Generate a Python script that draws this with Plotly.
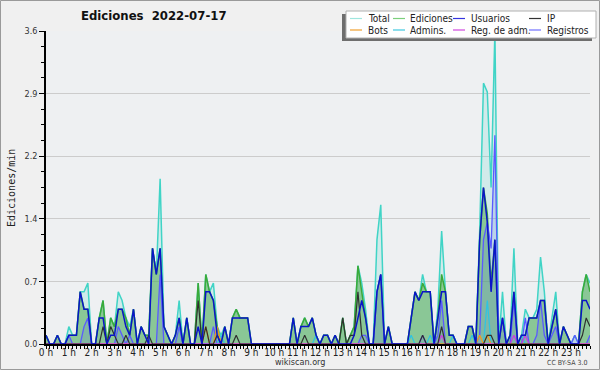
import plotly.graph_objects as go

# ---- time bins (10 minutes) ----
minutes = list(range(0, 1440, 10))
hours = [m / 60 for m in minutes]
hour_ticks = list(range(24))
hour_labels = [f"{h} h" for h in hour_ticks]

# ---- series (edits per minute, one row per hour) ----
total = [
    0.1, 0, 0, 0.1, 0, 0,
    0.2, 0.1, 0.1, 0.6, 0.6, 0.7,
    0, 0, 0.3, 0.5, 0, 0.3,
    0.2, 0.6, 0.5, 0.3, 0.2, 0.4,
    0, 0.2, 0.1, 0.1, 1.1, 0.8,
    1.9, 0.2, 0.1, 0, 0.1, 0.5,
    0, 0.3, 0, 0, 0.7, 0,
    0.8, 0.6, 0.7, 0.2, 0.1, 0.2,
    0, 0.3, 0.4, 0.3, 0.3, 0.3,
    0, 0, 0, 0, 0, 0,
    0, 0, 0, 0, 0, 0.3,
    0, 0.2, 0.3, 0.2, 0.3, 0.1,
    0, 0.1, 0.1, 0, 0.1, 0,
    0.3, 0, 0.1, 0.2, 0.9, 0.7,
    0.4, 0, 0, 1.2, 1.6, 0,
    0.2, 0, 0, 0, 0, 0,
    0.3, 0.6, 0.5, 0.8, 0.6, 0.6,
    0, 0.4, 1.3, 0.6, 0.1, 0.1,
    0, 0, 0, 0.2, 0.2, 0,
    1.3, 3.0, 2.9, 1.8, 3.6, 0,
    0.6, 0, 0.1, 1.1, 0, 0.1,
    0.4, 0.3, 0.3, 0.4, 1.0, 0.6,
    0, 0.3, 0.6, 0, 0.2, 0.1,
    0, 0.1, 0, 0.6, 0.8, 0.7,
]
ediciones = [
    0.1, 0, 0, 0.1, 0, 0,
    0.1, 0.1, 0.1, 0.6, 0.4, 0.4,
    0, 0, 0.3, 0.5, 0, 0.3,
    0.2, 0.4, 0.4, 0.3, 0.1, 0.4,
    0, 0.2, 0.1, 0.1, 1.1, 0.8,
    1.1, 0.2, 0.1, 0, 0.1, 0.3,
    0, 0.3, 0, 0, 0.7, 0,
    0.8, 0.6, 0.5, 0.2, 0, 0.2,
    0, 0.3, 0.4, 0.3, 0.3, 0.3,
    0, 0, 0, 0, 0, 0,
    0, 0, 0, 0, 0, 0.3,
    0, 0.2, 0.3, 0.2, 0.3, 0.1,
    0, 0.1, 0.1, 0, 0.1, 0,
    0.3, 0, 0.1, 0.2, 0.9, 0.6,
    0.3, 0, 0, 0.6, 0.8, 0,
    0.2, 0, 0, 0, 0, 0,
    0.3, 0.6, 0.5, 0.7, 0.6, 0.6,
    0, 0.3, 0.8, 0.6, 0.1, 0.1,
    0, 0, 0, 0.2, 0.2, 0,
    1.2, 1.8, 1.5, 0.7, 1.2, 0,
    0.3, 0, 0.1, 0.6, 0, 0.1,
    0.1, 0.3, 0.3, 0.3, 0.5, 0.5,
    0, 0.2, 0.4, 0, 0.2, 0.1,
    0, 0, 0, 0.6, 0.8, 0.6,
]
usuarios = [
    0.1, 0, 0, 0.1, 0, 0,
    0.1, 0.1, 0.1, 0.6, 0.4, 0.4,
    0, 0, 0.3, 0.3, 0, 0.1,
    0.1, 0.4, 0.4, 0.2, 0.1, 0.4,
    0, 0.2, 0.1, 0, 1.1, 0.8,
    1.1, 0.2, 0.1, 0, 0.1, 0.3,
    0, 0.3, 0, 0, 0.2, 0,
    0.6, 0.6, 0.5, 0.1, 0, 0.2,
    0, 0.3, 0.3, 0.3, 0.3, 0.3,
    0, 0, 0, 0, 0, 0,
    0, 0, 0, 0, 0, 0.3,
    0, 0.2, 0.2, 0.2, 0.3, 0.1,
    0, 0.1, 0.1, 0, 0.1, 0,
    0, 0, 0, 0.1, 0.3, 0.5,
    0.3, 0, 0, 0.6, 0.8, 0,
    0.2, 0, 0, 0, 0, 0,
    0.3, 0.6, 0.5, 0.6, 0.6, 0.6,
    0, 0.3, 0.6, 0.6, 0.1, 0.1,
    0, 0, 0, 0.2, 0.2, 0,
    1.2, 1.8, 1.4, 0.6, 1.2, 0,
    0.3, 0, 0.1, 0.6, 0, 0.1,
    0.1, 0.3, 0.3, 0.3, 0.5, 0.5,
    0, 0.2, 0.4, 0, 0.2, 0.1,
    0, 0, 0, 0.5, 0.5, 0.4,
]
ip = [
    0, 0, 0, 0, 0, 0,
    0, 0, 0, 0, 0, 0,
    0, 0, 0, 0.2, 0, 0.2,
    0.1, 0, 0, 0.1, 0, 0,
    0, 0, 0, 0.1, 0, 0,
    0, 0, 0, 0, 0, 0,
    0, 0, 0, 0, 0.5, 0,
    0.2, 0, 0, 0.1, 0, 0,
    0, 0, 0.1, 0, 0, 0,
    0, 0, 0, 0, 0, 0,
    0, 0, 0, 0, 0, 0,
    0, 0, 0.1, 0, 0, 0,
    0, 0, 0, 0, 0, 0,
    0.3, 0, 0.1, 0.1, 0.6, 0.1,
    0, 0, 0, 0, 0, 0,
    0, 0, 0, 0, 0, 0,
    0, 0, 0, 0.1, 0, 0,
    0, 0, 0.2, 0, 0, 0,
    0, 0, 0, 0, 0, 0,
    0, 0, 0.1, 0.1, 0, 0,
    0, 0, 0, 0, 0, 0,
    0, 0, 0, 0, 0, 0,
    0, 0, 0, 0, 0, 0,
    0, 0, 0, 0.1, 0.3, 0.2,
]
registros = [
    0, 0, 0, 0, 0, 0,
    0.1, 0, 0, 0, 0.2, 0.3,
    0, 0, 0, 0, 0, 0,
    0, 0.2, 0.1, 0, 0.1, 0,
    0, 0, 0, 0, 0, 0,
    0.8, 0, 0, 0, 0, 0.2,
    0, 0, 0, 0, 0, 0,
    0, 0, 0.2, 0, 0, 0,
    0, 0, 0, 0, 0, 0,
    0, 0, 0, 0, 0, 0,
    0, 0, 0, 0, 0, 0,
    0, 0, 0, 0, 0, 0,
    0, 0, 0, 0, 0, 0,
    0, 0, 0, 0, 0, 0.1,
    0.1, 0, 0, 0.6, 0.8, 0,
    0, 0, 0, 0, 0, 0,
    0, 0, 0, 0.1, 0, 0,
    0, 0.1, 0.5, 0, 0, 0,
    0, 0, 0, 0, 0, 0,
    0.1, 1.2, 1.4, 1.1, 2.4, 0,
    0.3, 0, 0, 0.5, 0, 0,
    0.3, 0, 0, 0.1, 0.5, 0.1,
    0, 0.1, 0.2, 0, 0, 0,
    0, 0.1, 0, 0, 0, 0.1,
]
bots = [
    0, 0, 0, 0, 0, 0,
    0, 0, 0, 0, 0, 0,
    0, 0, 0, 0, 0, 0,
    0, 0, 0, 0, 0, 0,
    0, 0, 0, 0, 0, 0,
    0, 0, 0, 0, 0, 0,
    0, 0, 0, 0, 0, 0,
    0.2, 0, 0, 0.2, 0, 0,
    0, 0, 0, 0, 0, 0,
    0, 0, 0, 0, 0, 0,
    0, 0, 0, 0, 0, 0,
    0, 0, 0, 0, 0, 0,
    0, 0, 0, 0, 0, 0,
    0, 0, 0, 0, 0, 0,
    0, 0, 0, 0, 0, 0,
    0, 0, 0, 0, 0, 0,
    0, 0, 0, 0, 0, 0,
    0, 0, 0, 0, 0, 0,
    0, 0, 0, 0, 0, 0,
    0.1, 0, 0.1, 0, 0, 0,
    0, 0, 0, 0, 0, 0,
    0, 0, 0, 0, 0, 0,
    0, 0, 0, 0, 0, 0,
    0, 0, 0, 0, 0, 0,
]
admins = [
    0, 0, 0, 0, 0, 0,
    0, 0, 0, 0, 0, 0,
    0, 0, 0, 0, 0, 0,
    0, 0, 0, 0, 0, 0,
    0, 0, 0, 0, 0, 0,
    0, 0, 0, 0, 0, 0,
    0, 0, 0, 0, 0, 0,
    0, 0, 0, 0, 0.1, 0,
    0, 0, 0, 0, 0, 0,
    0, 0, 0, 0, 0, 0,
    0, 0, 0, 0, 0, 0,
    0, 0, 0, 0, 0, 0.1,
    0, 0, 0, 0, 0, 0,
    0, 0, 0, 0, 0, 0,
    0, 0, 0, 0, 0, 0,
    0, 0, 0, 0, 0, 0,
    0.1, 0, 0, 0, 0, 0.1,
    0, 0, 0, 0, 0, 0.1,
    0, 0, 0, 0, 0.1, 0,
    0, 0, 0.5, 0, 0, 0,
    0, 0, 0, 0, 0, 0.1,
    0, 0, 0, 0, 0, 0,
    0, 0, 0, 0, 0, 0,
    0, 0, 0, 0, 0, 0,
]
reg_adm = [
    0, 0, 0, 0, 0, 0,
    0, 0, 0, 0, 0, 0,
    0, 0, 0, 0, 0, 0,
    0, 0, 0, 0, 0, 0,
    0, 0, 0, 0, 0, 0,
    0, 0, 0, 0, 0, 0,
    0, 0, 0, 0, 0, 0,
    0, 0, 0, 0, 0, 0,
    0, 0, 0, 0, 0, 0,
    0, 0, 0, 0, 0, 0,
    0, 0, 0, 0, 0, 0,
    0, 0, 0, 0, 0, 0,
    0, 0, 0, 0, 0, 0,
    0, 0, 0, 0, 0, 0,
    0, 0, 0, 0, 0, 0,
    0, 0, 0, 0, 0, 0,
    0, 0, 0, 0, 0, 0,
    0, 0, 0.1, 0, 0, 0,
    0, 0, 0, 0, 0, 0,
    0, 0, 0, 0, 0, 0,
    0, 0, 0, 0.1, 0, 0,
    0.1, 0, 0, 0, 0, 0,
    0, 0, 0, 0, 0, 0,
    0, 0, 0, 0, 0, 0,
]

y_major = [0, 0.72, 1.44, 2.16, 2.88, 3.6]
y_labels = ["0.0", "0.7", "1.4", "2.2", "2.9", "3.6"]

legend_items = [
    ("Total", "#9fe6df"), ("Ediciones", "#7ccf7c"), ("Usuarios", "#3434e0"), ("IP", "#333333"),
    ("Bots", "#f0a030"), ("Admins.", "#40c8e0"), ("Reg. de adm.", "#d048e0"), ("Registros", "#7070ff"),
]

# ---- geometry helpers (pixel -> paper) ----
W, H = 600, 370
L, R, T, B = 46, 10, 31, 26
PW, PH = W - L - R, H - T - B


def px(x):
    return (x - L) / PW


def py(y):
    return (H - B - y) / PH


fig = go.Figure()


def add(y, color, width, fill=None, fillcolor=None):
    fig.add_trace(go.Scatter(
        x=hours, y=y, mode="lines",
        line=dict(color=color, width=width),
        fill=fill, fillcolor=fillcolor,
        showlegend=False, hoverinfo="skip",
    ))


add(total, "#40d4c6", 1.5, "tozeroy", "rgba(64,208,192,0.16)")
add(ediciones, "#3aaa3a", 1.5, "tozeroy", "rgba(80,170,80,0.55)")
add(registros, "#5a5aff", 1.3, "tozeroy", "rgba(90,110,230,0.18)")
add(admins, "#30c4e0", 1.3)
add(bots, "#f09a20", 1.3)
add(reg_adm, "#c840e0", 1.3)
add(ip, "#303030", 1.2)
add(usuarios, "#0a14c8", 1.5)

shapes = []
annotations = []

FONT = "DejaVu Sans Condensed, Liberation Sans Narrow, Liberation Sans"

# legend box with shadow
shapes.append(dict(type="rect", xref="paper", yref="paper",
                   x0=px(342), x1=px(592), y0=py(41), y1=py(14),
                   fillcolor="#6e6e6e", line=dict(width=0), layer="above"))
shapes.append(dict(type="rect", xref="paper", yref="paper",
                   x0=px(346), x1=px(596), y0=py(38), y1=py(11),
                   fillcolor="white", line=dict(color="#b0b0b0", width=1), layer="above"))
col_line = [350, 393, 453, 529]
col_text = [366, 408, 469, 545]
rows = [18.5, 30]
for k, (name, color) in enumerate(legend_items):
    r, c = divmod(k, 4)
    yy = rows[r]
    shapes.append(dict(type="line", xref="paper", yref="paper",
                       x0=px(col_line[c]), x1=px(col_line[c] + 12), y0=py(yy), y1=py(yy),
                       line=dict(color=color, width=1.2), layer="above"))
    annotations.append(dict(text=name, xref="paper", yref="paper", x=px(col_text[c]), y=py(yy),
                            xanchor="left", yanchor="middle", showarrow=False,
                            font=dict(family=FONT, size=10, color="#222222")))

# outer border
shapes.append(dict(type="rect", xref="paper", yref="paper",
                   x0=px(0.5), x1=px(599.5), y0=py(369.5), y1=py(0.5),
                   line=dict(color="#9a9a9a", width=1), fillcolor="rgba(0,0,0,0)", layer="above"))

annotations.append(dict(text="<b>Ediciones  2022-07-17</b>", xref="paper", yref="paper",
                        x=px(154), y=py(16), xanchor="center", yanchor="middle", showarrow=False,
                        font=dict(family=FONT, size=13, color="#111111")))
annotations.append(dict(text="Ediciones/min", xref="paper", yref="paper",
                        x=px(11), y=py(188), xanchor="center", yanchor="middle", showarrow=False,
                        textangle=-90,
                        font=dict(family="DejaVu Sans Mono", size=10, color="#222222")))
annotations.append(dict(text="wikiscan.org", xref="paper", yref="paper",
                        x=px(300), y=py(362), xanchor="center", yanchor="middle", showarrow=False,
                        font=dict(family=FONT, size=9, color="#333333")))
annotations.append(dict(text="CC BY-SA 3.0", xref="paper", yref="paper",
                        x=px(589), y=py(362.5), xanchor="right", yanchor="middle", showarrow=False,
                        font=dict(family=FONT, size=7, color="#444444")))

fig.update_layout(
    width=W, height=H, autosize=False,
    margin=dict(l=L, r=R, t=T, b=B, pad=0, autoexpand=False),
    paper_bgcolor="#f0f0f0",
    plot_bgcolor="#eef0f2",
    showlegend=False,
    shapes=shapes,
    annotations=annotations,
    xaxis=dict(
        range=[0, 143 / 6], tickmode="array", tickvals=hour_ticks, ticktext=hour_labels,
        ticks="outside", ticklen=3, tickcolor="black", showline=True, linecolor="black", linewidth=1.5,
        showgrid=False, zeroline=False, automargin=False, ticklabelstandoff=-5,
        tickfont=dict(family=FONT, size=10, color="#222222"),
        minor=dict(dtick=1 / 6, tick0=0, ticks="outside", ticklen=3, tickcolor="black", showgrid=False),
    ),
    yaxis=dict(
        range=[0, 3.6], tickmode="array", tickvals=y_major, ticktext=y_labels,
        ticks="outside", ticklen=5, tickcolor="black", showline=True, linecolor="black", linewidth=1.5,
        gridcolor="#cccccc", gridwidth=1, zeroline=False, automargin=False,
        tickfont=dict(family=FONT, size=9, color="#333333"),
        minor=dict(dtick=0.18, tick0=0, ticks="outside", ticklen=3, tickcolor="black", showgrid=False),
    ),
)

fig.write_html("out.html", config={"displayModeBar": False, "responsive": False},
               post_script="document.body.style.margin='0';document.body.style.overflow='hidden';")
